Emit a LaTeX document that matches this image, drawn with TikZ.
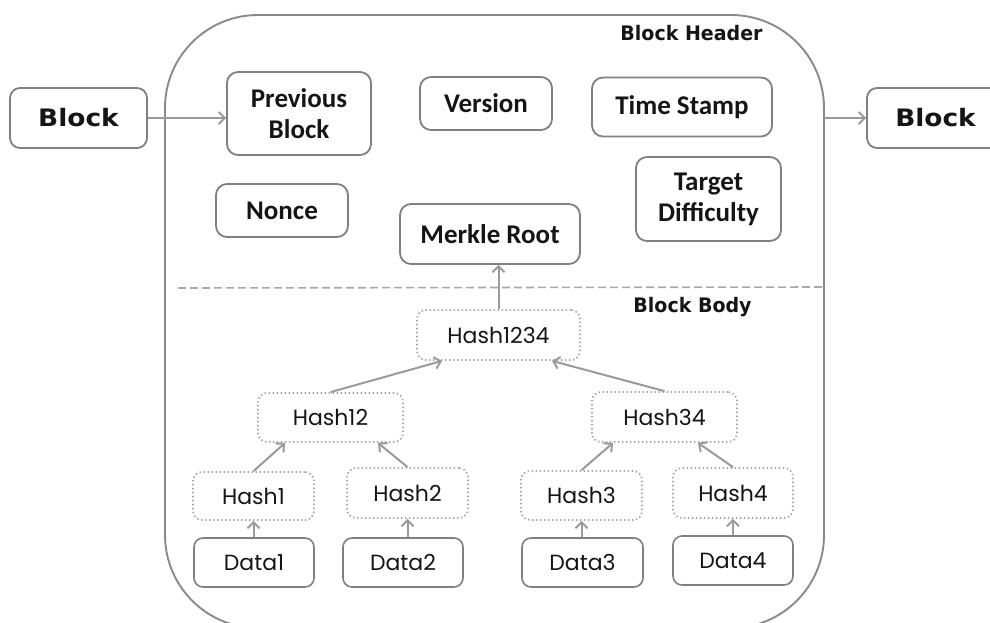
\documentclass[tikz,border=0pt]{standalone}
\usepackage{fontspec}
\setmainfont{Carlito}
\newfontfamily\treefont{Poppins}
\newfontfamily\blkfont{DejaVu Sans}[FakeStretch=1.1]
\newfontfamily\hdrfont{DejaVu Sans}[FakeStretch=0.95]
\usetikzlibrary{arrows.meta}
\definecolor{ink}{HTML}{151515}
\definecolor{boxline}{HTML}{808080}
\definecolor{dotline}{HTML}{A8A8A8}
\definecolor{arrowc}{HTML}{9A9A9A}
\definecolor{outerc}{HTML}{8A8A8A}
\tikzset{
  field/.style={draw=boxline, line width=1.8pt, rounded corners=11pt, text=ink,
    font=\bfseries\fontsize{27}{31}\selectfont, align=center, inner sep=0pt},
  blockbox/.style={draw=boxline, line width=1.8pt, rounded corners=10pt, text=ink,
    font=\blkfont\bfseries\fontsize{24}{28}\selectfont, inner sep=0pt,
    minimum width=137pt, minimum height=60pt},
  hashbox/.style={draw=dotline, line width=1.8pt, dash pattern=on 1.5pt off 2.5pt,
    rounded corners=9pt, text=ink, font=\treefont\fontsize{22}{26}\selectfont,
    inner sep=0pt},
  databox/.style={draw=boxline, line width=1.6pt, rounded corners=9pt, text=ink,
    font=\treefont\fontsize{22}{26}\selectfont, inner sep=0pt,
    minimum width=120pt, minimum height=49pt},
  secttitle/.style={text=ink, font=\hdrfont\bfseries\fontsize{20}{23}\selectfont,
    inner sep=0pt},
  link/.style={draw=arrowc, line width=2pt,
    -{Straight Barb[length=6pt,width=12pt,line width=2pt]}}
}
\begin{document}
\begin{tikzpicture}[x=1pt,y=-1pt]
\useasboundingbox (0,0) rectangle (990,623);
\clip (0,0) rectangle (990,623);

% block frame with header and body
\draw[outerc, line width=1.9pt, rounded corners=93pt] (165,15) rectangle (824,628);
\draw[dotline, line width=1.6pt, dash pattern=on 8pt off 4pt] (178,288) -- (826,287);
\node[secttitle] (hdr) at (691.5,33) {Block Header};
\node[secttitle] (body) at (692.5,307) {Block Body};

% neighbouring blocks
\node[blockbox] (blkL) at (78.5,118) {Block};
\node[blockbox] (blkR) at (935.5,118) {Block};
\coordinate (frameE) at (824,118);

% header fields
\node[field, minimum width=144pt, minimum height=83pt] (prev) at (299,113.5) {Previous\\Block};
\node[field, minimum width=132pt, minimum height=53pt] (ver) at (486,103.5) {Version};
\node[field, minimum width=180pt, minimum height=59pt] (ts) at (682,107) {Time Stamp};
\node[field, minimum width=132pt, minimum height=53pt] (nonce) at (282,210.5) {Nonce};
\node[field, minimum width=180pt, minimum height=60pt] (mr) at (490,234) {Merkle Root};
\node[field, minimum width=145pt, minimum height=84pt] (td) at (708.5,199) {Target\\Difficulty};

% merkle tree
\node[hashbox, minimum width=163pt, minimum height=50pt] (h1234) at (498.5,335) {Hash1234};
\node[hashbox, minimum width=145pt, minimum height=49pt] (h12) at (330.5,417.5) {Hash12};
\node[hashbox, minimum width=145pt, minimum height=50pt] (h34) at (664.5,417) {Hash34};
\node[hashbox, minimum width=121pt, minimum height=48pt] (h1) at (253.5,496) {Hash1};
\node[hashbox, minimum width=121pt, minimum height=50pt] (h2) at (407.5,493) {Hash2};
\node[hashbox, minimum width=121pt, minimum height=49pt] (h3) at (581.5,495.5) {Hash3};
\node[hashbox, minimum width=120pt, minimum height=50pt] (h4) at (733,493) {Hash4};

\node[databox] (d1) at (254,562.5) {Data1};
\node[databox] (d2) at (403,562.5) {Data2};
\node[databox, minimum width=121pt] (d3) at (582.5,562.5) {Data3};
\node[databox] (d4) at (733,560.5) {Data4};

% chain links
\draw[link] (blkL.east) -- (blkL.east -| prev.west);
\draw[link] (frameE) -- (blkR.west);

% tree links
\draw[link] (h1234.north) -- (mr.south -| h1234.north);
\draw[link] (h12.north) -- ([xshift=-56.5pt]h1234.south);
\draw[link] (h34.north) -- ([xshift=53.5pt]h1234.south);
\draw[link] (h1.north) -- ([xshift=-45.5pt]h12.south);
\draw[link] (h2.north) -- ([xshift=47.5pt]h12.south);
\draw[link] (h3.north) -- ([xshift=-51.5pt]h34.south);
\draw[link] (h4.north) -- ([xshift=33.5pt]h34.south);
\draw[link] (d1.north -| h1.south) -- (h1.south);
\draw[link] (d2.north -| h2.south) -- (h2.south);
\draw[link] (d3.north -| h3.south) -- (h3.south);
\draw[link] (d4.north -| h4.south) -- (h4.south);
\end{tikzpicture}
\end{document}
